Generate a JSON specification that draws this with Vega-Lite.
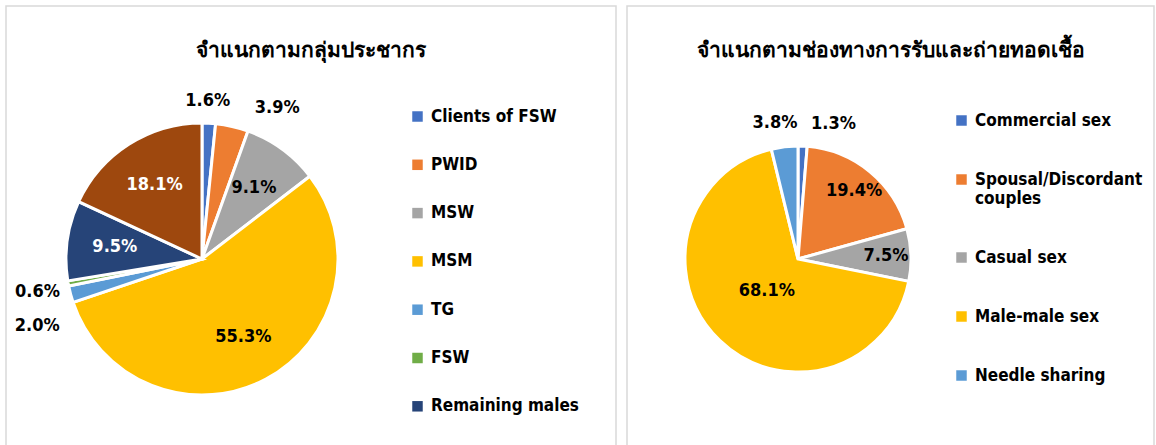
{
  "$schema": "https://vega.github.io/schema/vega-lite/v6.json",
  "padding": {"left": 5, "top": 5, "right": 0, "bottom": 0},
  "background": "white",
  "spacing": 9,
  "config": {
    "view": {"stroke": null},
    "font": "DejaVu Sans Condensed",
    "text": {"font": "DejaVu Sans Condensed", "fontSize": 18, "fontWeight": "bold"},
    "title": {"fontSize": 21, "fontWeight": "bold", "color": "black", "baseline": "middle", "anchor": "middle", "offset": -56},
    "legend": {"orient": "none", "symbolType": "square", "symbolSize": 110, "symbolStrokeWidth": 0, "labelFontSize": 17, "labelFontWeight": "bold", "labelFont": "DejaVu Sans Condensed", "labelColor": "black", "padding": 0, "labelOffset": 5, "title": null, "labelLimit": 400}
  },
  "resolve": {"scale": {"color": "independent", "theta": "independent"}, "legend": {"color": "independent"}},
  "hconcat": [
    {
      "width": 610,
      "height": 445,
      "title": {"text": "จำแนกตามกลุ่มประชากร"},
      "data": {"values": [
        {"k": 1, "group": "Clients of FSW", "value": 1.6},
        {"k": 2, "group": "PWID", "value": 3.9},
        {"k": 3, "group": "MSW", "value": 9.1},
        {"k": 4, "group": "MSM", "value": 55.3},
        {"k": 5, "group": "TG", "value": 2.0},
        {"k": 6, "group": "FSW", "value": 0.6},
        {"k": 7, "group": "Remaining males", "value": 9.5},
        {"k": 8, "group": "Remaining females", "value": 18.1}
      ]},
      "transform": [{"calculate": "format(datum.value, '.1f') + '%'", "as": "label"}],
      "layer": [
        {
          "data": {"values": [{"frame": 1}]},
          "mark": {"type": "rect", "x": 0, "y": 0, "x2": "width", "y2": "height", "fill": null, "stroke": "#d9d9d9", "strokeWidth": 1.5},
          "encoding": {}
        },
        {
          "mark": {"type": "arc", "outerRadius": 136, "x": 196, "y": 253, "stroke": "white", "strokeWidth": 3},
          "encoding": {
            "theta": {"field": "value", "type": "quantitative", "stack": true},
            "order": {"field": "k", "type": "quantitative"},
            "color": {"field": "group", "type": "nominal",
              "scale": {"domain": ["Clients of FSW", "PWID", "MSW", "MSM", "TG", "FSW", "Remaining males", "Remaining females"],
                        "range": ["#4472C4", "#ED7D31", "#A5A5A5", "#FFC000", "#5B9BD5", "#70AD47", "#264478", "#9E480E"]},
              "legend": {"values": ["Clients of FSW", "PWID", "MSW", "MSM", "TG", "FSW", "Remaining males"], "legendX": 403, "legendY": 102, "rowPadding": 30.3}}
          }
        },
        {
          "mark": {"type": "text", "radius": 88, "x": 196, "y": 253},
          "encoding": {
            "theta": {"field": "value", "type": "quantitative", "stack": true},
            "order": {"field": "k", "type": "quantitative"},
            "detail": {"field": "group"},
            "text": {"condition": {"test": "datum.value >= 5", "field": "label"}, "value": ""},
            "color": {"condition": {"test": "datum.group === 'Remaining males' || datum.group === 'Remaining females'", "value": "white"}, "value": "black"}
          }
        },
        {
          "mark": {"type": "text", "radius": 155, "x": 196, "y": 253, "dx": -2, "dy": -3, "color": "black"},
          "encoding": {"theta": {"field": "value", "type": "quantitative", "stack": true}, "order": {"field": "k", "type": "quantitative"}, "detail": {"field": "group"}, "text": {"condition": {"test": "datum.group === 'Clients of FSW'", "field": "label"}, "value": ""}}
        },
        {
          "mark": {"type": "text", "radius": 155, "x": 196, "y": 253, "dx": 41, "dy": 0, "color": "black"},
          "encoding": {"theta": {"field": "value", "type": "quantitative", "stack": true}, "order": {"field": "k", "type": "quantitative"}, "detail": {"field": "group"}, "text": {"condition": {"test": "datum.group === 'PWID'", "field": "label"}, "value": ""}}
        },
        {
          "mark": {"type": "text", "radius": 155, "x": 196, "y": 253, "dx": -12, "dy": 5, "color": "black"},
          "encoding": {"theta": {"field": "value", "type": "quantitative", "stack": true}, "order": {"field": "k", "type": "quantitative"}, "detail": {"field": "group"}, "text": {"condition": {"test": "datum.group === 'FSW'", "field": "label"}, "value": ""}}
        },
        {
          "mark": {"type": "text", "radius": 155, "x": 196, "y": 253, "dx": -15, "dy": 27, "color": "black"},
          "encoding": {"theta": {"field": "value", "type": "quantitative", "stack": true}, "order": {"field": "k", "type": "quantitative"}, "detail": {"field": "group"}, "text": {"condition": {"test": "datum.group === 'TG'", "field": "label"}, "value": ""}}
        }
      ]
    },
    {
      "width": 527,
      "height": 445,
      "title": {"text": "จำแนกตามช่องทางการรับและถ่ายทอดเชื้อ"},
      "data": {"values": [
        {"k": 1, "group": "Commercial sex", "value": 1.3},
        {"k": 2, "group": "Spousal/Discordant couples", "value": 19.4},
        {"k": 3, "group": "Casual sex", "value": 7.5},
        {"k": 4, "group": "Male-male sex", "value": 68.1},
        {"k": 5, "group": "Needle sharing", "value": 3.8}
      ]},
      "transform": [{"calculate": "format(datum.value, '.1f') + '%'", "as": "label"}],
      "layer": [
        {
          "data": {"values": [{"frame": 1}]},
          "mark": {"type": "rect", "x": 0, "y": 0, "x2": "width", "y2": "height", "fill": null, "stroke": "#d9d9d9", "strokeWidth": 1.5},
          "encoding": {}
        },
        {
          "mark": {"type": "arc", "outerRadius": 113, "x": 171, "y": 253, "stroke": "white", "strokeWidth": 3},
          "encoding": {
            "theta": {"field": "value", "type": "quantitative", "stack": true},
            "order": {"field": "k", "type": "quantitative"},
            "color": {"field": "group", "type": "nominal",
              "scale": {"domain": ["Commercial sex", "Spousal/Discordant couples", "Casual sex", "Male-male sex", "Needle sharing"],
                        "range": ["#4472C4", "#ED7D31", "#A5A5A5", "#FFC000", "#5B9BD5"]},
              "legend": {"legendX": 326, "legendY": 106, "rowPadding": 41,
                "labelExpr": "datum.label === 'Spousal/Discordant couples' ? ['Spousal/Discordant', 'couples'] : datum.label"}}
          }
        },
        {
          "mark": {"type": "text", "radius": 88, "x": 171, "y": 253, "color": "black"},
          "encoding": {"theta": {"field": "value", "type": "quantitative", "stack": true}, "order": {"field": "k", "type": "quantitative"}, "detail": {"field": "group"}, "text": {"condition": {"test": "datum.group === 'Spousal/Discordant couples' || datum.group === 'Casual sex'", "field": "label"}, "value": ""}}
        },
        {
          "mark": {"type": "text", "radius": 45, "x": 171, "y": 253, "color": "black"},
          "encoding": {"theta": {"field": "value", "type": "quantitative", "stack": true}, "order": {"field": "k", "type": "quantitative"}, "detail": {"field": "group"}, "text": {"condition": {"test": "datum.group === 'Male-male sex'", "field": "label"}, "value": ""}}
        },
        {
          "mark": {"type": "text", "radius": 135, "x": 171, "y": 253, "dx": 30, "dy": 0, "color": "black"},
          "encoding": {"theta": {"field": "value", "type": "quantitative", "stack": true}, "order": {"field": "k", "type": "quantitative"}, "detail": {"field": "group"}, "text": {"condition": {"test": "datum.group === 'Commercial sex'", "field": "label"}, "value": ""}}
        },
        {
          "mark": {"type": "text", "radius": 135, "x": 171, "y": 253, "dx": -7, "dy": -2, "color": "black"},
          "encoding": {"theta": {"field": "value", "type": "quantitative", "stack": true}, "order": {"field": "k", "type": "quantitative"}, "detail": {"field": "group"}, "text": {"condition": {"test": "datum.group === 'Needle sharing'", "field": "label"}, "value": ""}}
        }
      ]
    }
  ]
}
